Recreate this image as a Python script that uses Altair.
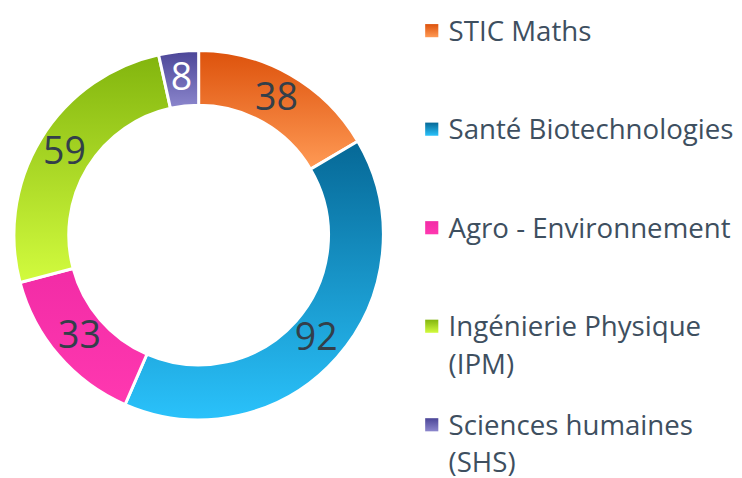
import altair as alt
import pandas as pd

categories = ["STIC Maths", "Santé Biotechnologies", "Agro - Environnement",
              "Ingénierie Physique (IPM)", "Sciences humaines (SHS)"]
values = [38, 92, 33, 59, 8]
legend_labels = ["STIC Maths", "Santé Biotechnologies", "Agro - Environnement",
                 "Ingénierie Physique|(IPM)", "Sciences humaines|(SHS)"]
color_top = ["#dd520c", "#066896", "#f22ca6", "#82b50e", "#4b4597"]
color_bottom = ["#ff9a55", "#2ac2fb", "#ff38b0", "#d2fb3e", "#8c87cd"]
label_colors = ["#333f4a", "#333f4a", "#333f4a", "#333f4a", "#ffffff"]

df = pd.DataFrame({
    "cat": categories,
    "value": values,
    "idx": list(range(len(categories))),
    "legend": legend_labels,
})


def grad(top, bottom):
    return {
        "gradient": "linear", "x1": 0, "y1": 0, "x2": 0, "y2": 1,
        "stops": [{"offset": 0, "color": top}, {"offset": 1, "color": bottom}],
    }


def by_cat(vals):
    conds = [{"test": f"datum.cat === '{c}'", "value": v}
             for c, v in zip(categories[:-1], vals[:-1])]
    return {"condition": conds, "value": vals[-1]}


grads = [grad(t, b) for t, b in zip(color_top, color_bottom)]
fill_grad = by_cat(grads)

cx, cy = 189, 227
base = alt.Chart(df)

arcs = base.mark_arc(radius=187, innerRadius=131.5, stroke="white", strokeWidth=3).encode(
    theta=alt.Theta("value:Q", stack=True),
    order=alt.Order("idx:Q"),
    detail="cat:N",
    fill=fill_grad,
    x=alt.value(cx), y=alt.value(cy),
)

labels = base.mark_text(radius=159, font="Open Sans", fontSize=38).encode(
    theta=alt.Theta("value:Q", stack=True),
    order=alt.Order("idx:Q"),
    detail="cat:N",
    text="value:Q",
    fill=by_cat(label_colors),
    x=alt.value(cx), y=alt.value(cy),
)

yscale = alt.Scale(type="point", domain=categories, range=[20, 419], padding=0)

swatches = base.mark_square(size=177, opacity=1).encode(
    x=alt.value(425),
    y=alt.Y("cat:N", scale=yscale, axis=None),
    fill=fill_grad,
)

legend_text = base.mark_text(
    align="left", baseline="alphabetic", dy=10, lineBreak="|", lineHeight=38,
    font="Open Sans", fontSize=28, color="#3e4f5f",
).encode(
    x=alt.value(442),
    y=alt.Y("cat:N", scale=yscale, axis=None),
    text="legend:N",
)

chart = alt.layer(arcs, labels, swatches, legend_text).properties(
    width=726, height=462, padding=0
).configure_view(stroke=None)

chart.save("out.html", embed_options={"renderer": "svg", "actions": False})
